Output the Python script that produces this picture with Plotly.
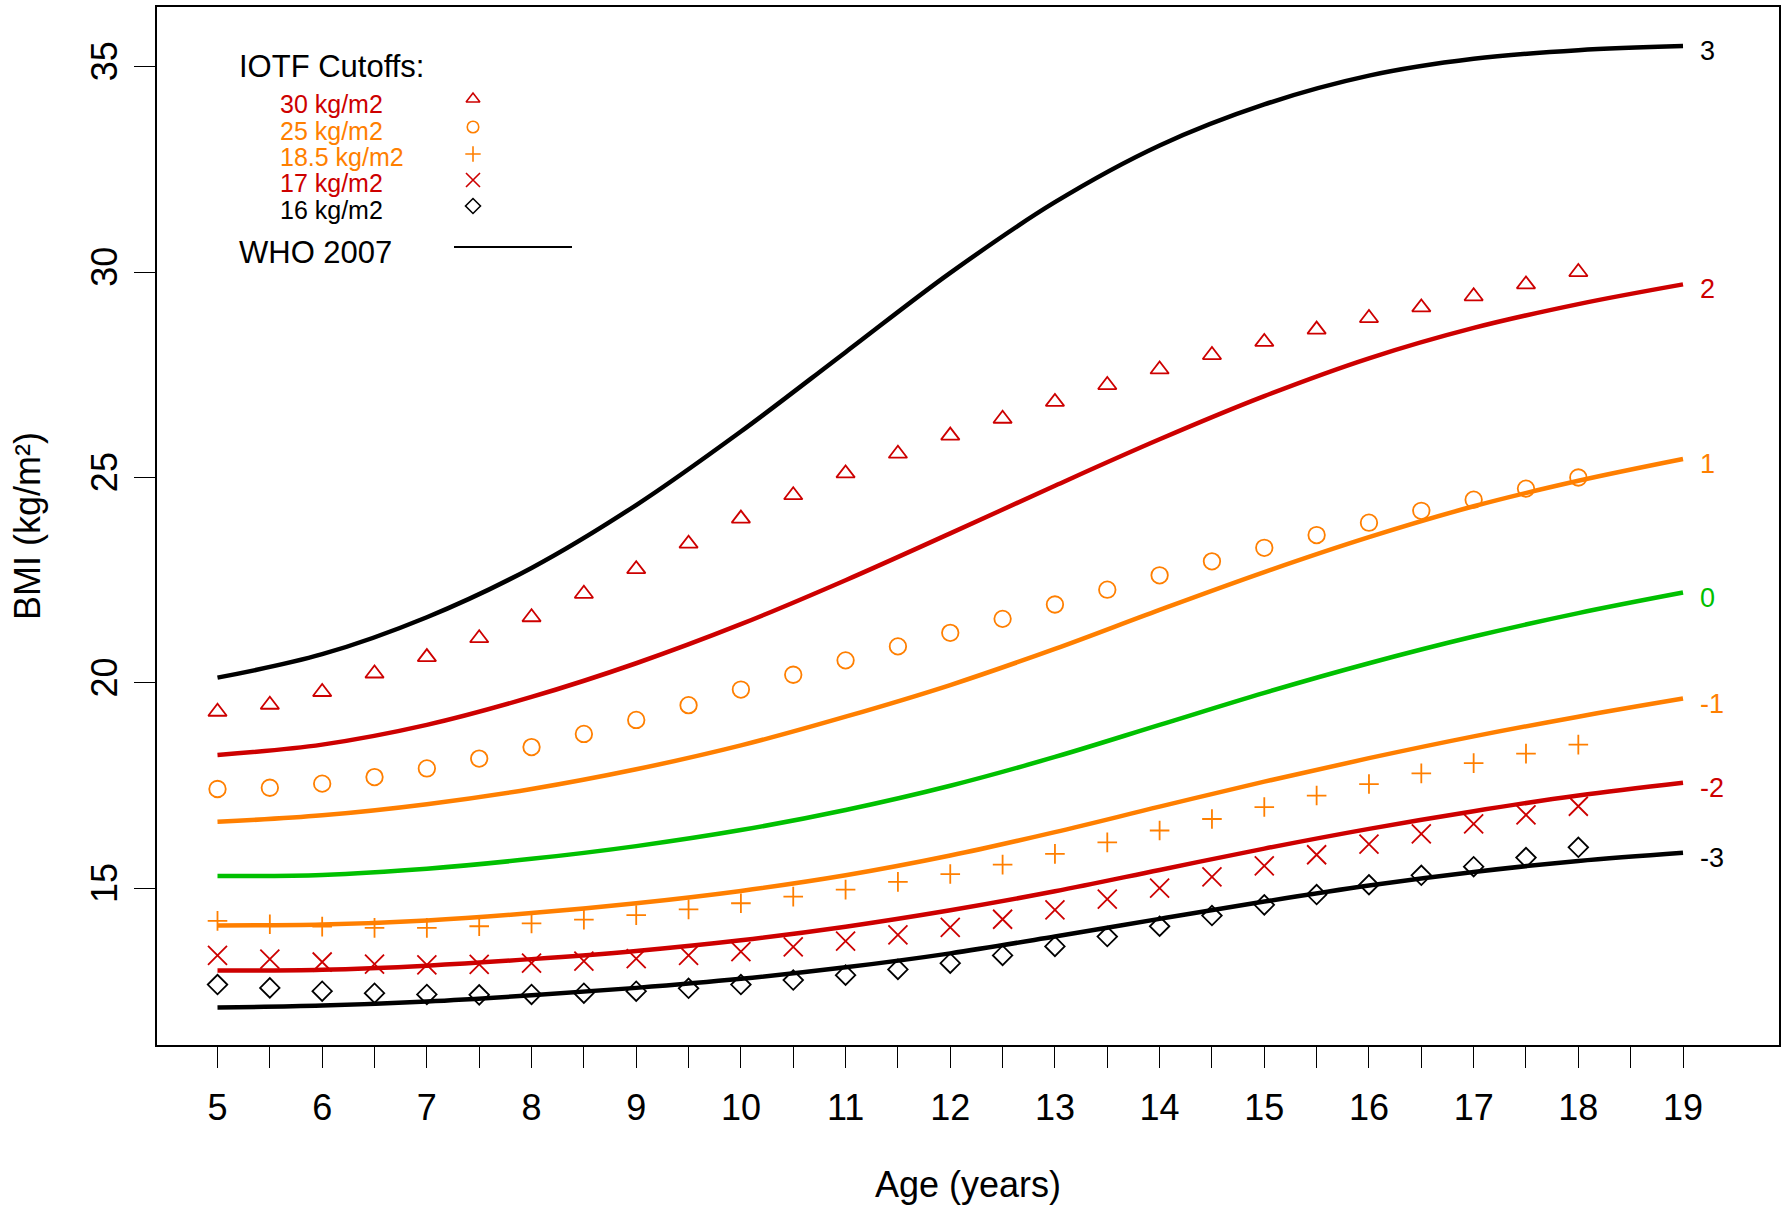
import plotly.graph_objects as go

# ---------------- data ----------------
who_age = [5, 6, 7, 8, 9, 10, 11, 12, 13, 14, 15, 16, 17, 18, 19]
who_sd3neg = [12.10, 12.15, 12.25, 12.40, 12.58, 12.80, 13.08, 13.42, 13.83, 14.26, 14.68, 15.07, 15.40, 15.67, 15.87]
who_sd2neg = [13.00, 13.02, 13.12, 13.28, 13.48, 13.74, 14.07, 14.47, 14.93, 15.45, 15.97, 16.45, 16.88, 17.26, 17.57]
who_sd1neg = [14.10, 14.12, 14.22, 14.40, 14.64, 14.94, 15.32, 15.80, 16.37, 16.99, 17.60, 18.17, 18.70, 19.18, 19.62]
who_sd0 = [15.30, 15.33, 15.48, 15.72, 16.03, 16.42, 16.91, 17.50, 18.20, 18.98, 19.76, 20.48, 21.13, 21.70, 22.20]
who_sd1 = [16.62, 16.78, 17.05, 17.42, 17.90, 18.48, 19.18, 19.95, 20.83, 21.78, 22.70, 23.55, 24.30, 24.92, 25.45]
who_sd2 = [18.25, 18.50, 18.98, 19.66, 20.48, 21.43, 22.50, 23.64, 24.80, 25.93, 26.98, 27.90, 28.64, 29.22, 29.70]
who_sd3 = [20.13, 20.70, 21.60, 22.80, 24.33, 26.12, 28.05, 29.98, 31.70, 33.08, 34.08, 34.78, 35.19, 35.40, 35.50]

iotf_age = [5, 5.5, 6, 6.5, 7, 7.5, 8, 8.5, 9, 9.5, 10, 10.5, 11, 11.5, 12, 12.5,
            13, 13.5, 14, 14.5, 15, 15.5, 16, 16.5, 17, 17.5, 18]
iotf_30 = [19.30, 19.47, 19.78, 20.23, 20.63, 21.09, 21.60, 22.17, 22.77, 23.39, 24.00, 24.57,
           25.10, 25.58, 26.02, 26.43, 26.84, 27.25, 27.63, 27.98, 28.30, 28.60, 28.88, 29.14,
           29.41, 29.70, 30.00]
iotf_25 = [17.42, 17.45, 17.55, 17.71, 17.92, 18.16, 18.44, 18.76, 19.10, 19.46, 19.84, 20.20,
           20.55, 20.89, 21.22, 21.56, 21.91, 22.27, 22.62, 22.96, 23.29, 23.60, 23.90, 24.19,
           24.46, 24.73, 25.00]
iotf_185 = [14.21, 14.13, 14.07, 14.04, 14.04, 14.08, 14.15, 14.24, 14.35, 14.49, 14.64, 14.80,
            14.97, 15.16, 15.35, 15.58, 15.84, 16.12, 16.41, 16.69, 16.98, 17.26, 17.54, 17.80,
            18.05, 18.28, 18.50]
iotf_17 = [13.37, 13.28, 13.21, 13.16, 13.14, 13.15, 13.18, 13.23, 13.29, 13.37, 13.46, 13.58,
           13.72, 13.87, 14.05, 14.25, 14.48, 14.74, 15.01, 15.28, 15.55, 15.82, 16.08, 16.33,
           16.57, 16.79, 17.00]
iotf_16 = [12.66, 12.58, 12.50, 12.45, 12.42, 12.41, 12.42, 12.45, 12.50, 12.57, 12.66, 12.77,
           12.89, 13.03, 13.18, 13.37, 13.59, 13.83, 14.08, 14.34, 14.60, 14.85, 15.09, 15.32,
           15.53, 15.75, 16.00]

x_tickvals = [5, 5.5, 6, 6.5, 7, 7.5, 8, 8.5, 9, 9.5, 10, 10.5, 11, 11.5, 12, 12.5,
              13, 13.5, 14, 14.5, 15, 15.5, 16, 16.5, 17, 17.5, 18, 18.5, 19]
x_ticktext = ["5", "", "6", "", "7", "", "8", "", "9", "", "10", "", "11", "", "12", "",
              "13", "", "14", "", "15", "", "16", "", "17", "", "18", "", "19"]
y_tickvals = [15, 20, 25, 30, 35]

z_labels = ["3", "2", "1", "0", "-1", "-2", "-3"]
iotf_labels = ["30 kg/m2", "25 kg/m2", "18.5 kg/m2", "17 kg/m2", "16 kg/m2"]

# ---------------- styles ----------------
RED = "#CD0000"
ORANGE = "#FF7F00"
GREEN = "#00C000"
BLACK = "#000000"
FONT = "Liberation Sans, Arial, sans-serif"

who_series = [who_sd3, who_sd2, who_sd1, who_sd0, who_sd1neg, who_sd2neg, who_sd3neg]
who_colors = [BLACK, RED, ORANGE, GREEN, ORANGE, RED, BLACK]

iotf_series = [iotf_30, iotf_25, iotf_185, iotf_17, iotf_16]
iotf_colors = [RED, ORANGE, ORANGE, RED, BLACK]
iotf_symbols = ["triangle-up-open", "circle-open", "cross-thin-open", "x-thin-open", "diamond-open"]
iotf_sizes = [16, 16.5, 14, 19, 15]
leg_sizes = [12, 11.5, 11, 14, 11.5]

fig = go.Figure()

for ys, col in zip(who_series, who_colors):
    fig.add_trace(go.Scatter(x=who_age, y=ys, mode="lines",
                             line=dict(color=col, width=4.5, shape="spline", smoothing=1.0),
                             showlegend=False, hoverinfo="skip"))

for ys, col, sym, sz in zip(iotf_series, iotf_colors, iotf_symbols, iotf_sizes):
    fig.add_trace(go.Scatter(x=iotf_age, y=ys, mode="markers",
                             marker=dict(symbol=sym, size=sz, color=col,
                                         line=dict(color=col, width=1.8)),
                             showlegend=False, hoverinfo="skip"))

# right-hand z-score labels
annotations = []
for ys, col, lab in zip(who_series, who_colors, z_labels):
    annotations.append(dict(x=who_age[-1], y=ys[-1], xref="x", yref="y", text=lab,
                            showarrow=False, xanchor="left", yanchor="middle",
                            xshift=15, yshift=-5,
                            font=dict(family=FONT, size=27, color=col)))

# ---------------- legend (custom) ----------------
# plot area in pixels: x 157..1779, y 7..1045
PL, PR, PT, PB = 157, 1779, 7, 1045

def px(xp):
    return (xp - PL) / float(PR - PL)

def py(yp):
    return (PB - yp) / float(PB - PT)

annotations.append(dict(x=px(237), y=py(67), xref="paper", yref="paper", text="IOTF Cutoffs:",
                        showarrow=False, xanchor="left", yanchor="middle",
                        font=dict(family=FONT, size=31, color=BLACK)))
leg_text_rows = [104, 131, 157, 183, 210]
leg_mark_rows = [99, 127, 154, 180, 206]
for lab, col, yr in zip(iotf_labels, iotf_colors, leg_text_rows):
    annotations.append(dict(x=px(278), y=py(yr), xref="paper", yref="paper", text=lab,
                            showarrow=False, xanchor="left", yanchor="middle",
                            font=dict(family=FONT, size=25, color=col)))
annotations.append(dict(x=px(237), y=py(252), xref="paper", yref="paper", text="WHO 2007",
                        showarrow=False, xanchor="left", yanchor="middle",
                        font=dict(family=FONT, size=31, color=BLACK)))

for col, sym, sz, yr in zip(iotf_colors, iotf_symbols, leg_sizes, leg_mark_rows):
    fig.add_trace(go.Scatter(x=[px(473)], y=[py(yr)], xaxis="x2", yaxis="y2", mode="markers",
                             marker=dict(symbol=sym, size=sz, color=col,
                                         line=dict(color=col, width=1.6)),
                             showlegend=False, hoverinfo="skip"))

shapes = [dict(type="line", xref="paper", yref="paper", x0=px(454), x1=px(572),
               y0=py(247), y1=py(247), line=dict(color=BLACK, width=2))]

# axis titles
annotations.append(dict(x=0.5, y=py(1184), xref="paper", yref="paper", text="Age (years)",
                        showarrow=False, xanchor="center", yanchor="middle",
                        font=dict(family=FONT, size=36, color=BLACK)))
annotations.append(dict(x=px(27), y=0.5, xref="paper", yref="paper", text="BMI (kg/m²)",
                        showarrow=False, xanchor="center", yanchor="middle", textangle=-90,
                        font=dict(family=FONT, size=36, color=BLACK)))

fig.update_layout(
    width=1786, height=1205,
    margin=dict(l=PL, r=1786 - PR, t=PT, b=1205 - PB, autoexpand=False),
    paper_bgcolor="white", plot_bgcolor="white",
    font=dict(family=FONT, size=36, color=BLACK),
    xaxis=dict(range=[4.422, 19.917], tickmode="array", tickvals=x_tickvals, ticktext=x_ticktext,
               ticks="outside", ticklen=21, tickwidth=1.3, tickcolor=BLACK,
               showline=True, linecolor=BLACK, linewidth=1.8, mirror=True,
               showgrid=False, zeroline=False, ticklabelstandoff=9,
               tickfont=dict(family=FONT, size=36, color=BLACK), automargin=False),
    yaxis=dict(range=[11.19, 36.45], tickmode="array", tickvals=y_tickvals,
               ticks="outside", ticklen=21, tickwidth=1.3, tickcolor=BLACK,
               showline=True, linecolor=BLACK, linewidth=1.8, mirror=True,
               showgrid=False, zeroline=False, tickangle=-90, ticklabelstandoff=3,
               tickfont=dict(family=FONT, size=36, color=BLACK), automargin=False),
    xaxis2=dict(range=[0, 1], overlaying="x", visible=False, fixedrange=True),
    yaxis2=dict(range=[0, 1], overlaying="y", visible=False, fixedrange=True),
    annotations=annotations,
    shapes=shapes,
    showlegend=False,
)

fig.write_html("out.html", config={"displayModeBar": False},
               post_script="document.body.style.margin='0px';")
